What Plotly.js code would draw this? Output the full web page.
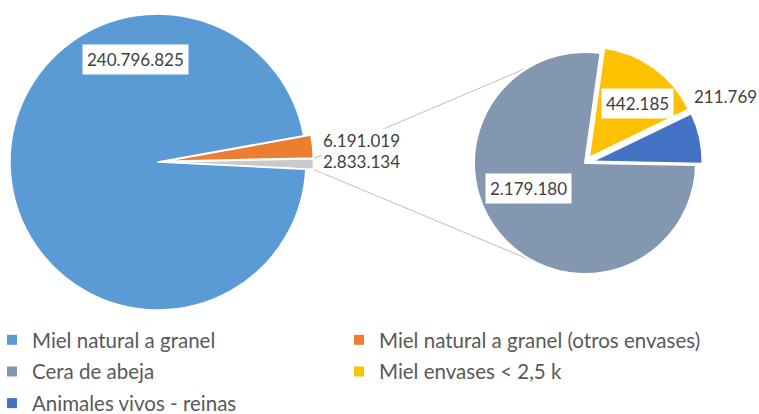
<!DOCTYPE html>
<html><head><meta charset="utf-8">
<script src="https://cdn.plot.ly/plotly-3.0.1.min.js"></script>
<style>html,body{margin:0;padding:0;background:#fff}</style>
</head><body>
<div id="chart" style="width:759px;height:414px"></div>
<script>
// ---- Data ----
// Main pie, listed clockwise starting with the orange slice
const mainLabels = ['Miel natural a granel (otros envases)', 'Otros', 'Miel natural a granel'];
const mainValues = [6191019, 2833134, 240796825];
// Secondary pie: breakdown of "Otros", listed clockwise
const subLabels = ['Miel envases < 2,5 k', 'Animales vivos - reinas', 'Cera de abeja'];
const subValues = [442185, 211769, 2179180];
// Legend columns
const legendCol1 = ['Miel natural a granel', 'Cera de abeja', 'Animales vivos - reinas'];
const legendCol2 = ['Miel natural a granel (otros envases)', 'Miel envases < 2,5 k'];

// ---- Styles ----
const colorOf = {
  'Miel natural a granel': '#5B9BD5',
  'Miel natural a granel (otros envases)': '#ED7D31',
  'Otros': '#C9C9C9',
  'Cera de abeja': '#8497B0',
  'Miel envases < 2,5 k': '#FFC000',
  'Animales vivos - reinas': '#4472C4'
};
const W = 759, H = 414;
const FONT = 'Lato, "Open Sans", sans-serif';
const mainGeo = {cx: 158, cy: 162, r: 148, pull: 0.05, rotation: 79.8};
const subGeo  = {cx: 585, cy: 163, r: 111, pull: 0.06, rotation: 8};
const connectorAngles = [-120, 118]; // where the connectors meet the secondary pie

function domainOf(g) {
  const h = g.r * (1 + g.pull);
  return {x: [(g.cx - h) / W, (g.cx + h) / W], y: [1 - (g.cy + h) / H, 1 - (g.cy - h) / H]};
}
const px = x => x / W, py = y => 1 - y / H;
const fmt = v => String(v).replace(/\B(?=(\d{3})+(?!\d))/g, '.');

const mainPie = {
  type: 'pie', labels: mainLabels, values: mainValues, sort: false, direction: 'clockwise',
  rotation: mainGeo.rotation, domain: domainOf(mainGeo),
  pull: mainLabels.map(l => l === 'Miel natural a granel' ? 0 : mainGeo.pull),
  marker: {colors: mainLabels.map(l => colorOf[l]), line: {color: '#ffffff', width: 1.5}},
  textinfo: 'none', showlegend: false, hoverinfo: 'label+value+percent'
};
const subPie = {
  type: 'pie', labels: subLabels, values: subValues, sort: false, direction: 'clockwise',
  rotation: subGeo.rotation, domain: domainOf(subGeo),
  pull: subLabels.map(l => l === 'Cera de abeja' ? 0 : subGeo.pull),
  marker: {colors: subLabels.map(l => colorOf[l]), line: {color: '#ffffff', width: 2}},
  textinfo: 'none', showlegend: false, hoverinfo: 'label+value+percent'
};

// Legend entries (no data drawn, only legend symbols)
const legendTraces = [];
legendCol1.forEach(l => legendTraces.push({type: 'scatter', mode: 'markers', x: [null], y: [null], name: l,
  legend: 'legend', legendgroup: l, marker: {symbol: 'square', size: 10, color: colorOf[l]}, hoverinfo: 'skip'}));
legendCol2.forEach(l => legendTraces.push({type: 'scatter', mode: 'markers', x: [null], y: [null], name: l,
  legend: 'legend2', legendgroup: l, marker: {symbol: 'square', size: 10, color: colorOf[l]}, hoverinfo: 'skip'}));

// Connector lines from the "Otros" slice to the secondary pie
const totMain = mainValues.reduce((a, b) => a + b, 0);
const iO = mainLabels.indexOf('Otros');
const before = mainValues.slice(0, iO).reduce((a, b) => a + b, 0);
const a0 = mainGeo.rotation + 360 * before / totMain;
const a1 = a0 + 360 * mainValues[iO] / totMain;
const am = (a0 + a1) / 2 * Math.PI / 180;
const pcx = mainGeo.cx + mainGeo.pull * mainGeo.r * Math.sin(am);
const pcy = mainGeo.cy - mainGeo.pull * mainGeo.r * Math.cos(am);
const corner = a => [pcx + mainGeo.r * Math.sin(a * Math.PI / 180), pcy - mainGeo.r * Math.cos(a * Math.PI / 180)];
const cUp = corner(a0), cDn = corner(a1);
const endPt = deg => [subGeo.cx + subGeo.r * Math.cos(deg * Math.PI / 180), subGeo.cy + subGeo.r * Math.sin(deg * Math.PI / 180)];
const eUp = endPt(connectorAngles[0]), eDn = endPt(connectorAngles[1]);
const shapes = [[cUp, eUp], [cDn, eDn]].map(([p, q]) => ({
  type: 'line', xref: 'paper', yref: 'paper', layer: 'below',
  x0: px(p[0]), y0: py(p[1]), x1: px(q[0]), y1: py(q[1]),
  line: {color: '#BFBFBF', width: 1}
}));

// Data labels
const labFont = {family: FONT, size: 17, color: '#404040'};
const v = (arr, labs, l) => arr[labs.indexOf(l)];
const annotations = [
  {text: fmt(v(mainValues, mainLabels, 'Miel natural a granel')), x: px(135.5), y: py(60), xanchor: 'center', bgcolor: '#ffffff', borderpad: 4},
  {text: fmt(v(mainValues, mainLabels, 'Miel natural a granel (otros envases)')), x: px(321), y: py(140.5), xanchor: 'left', bgcolor: '#ffffff', borderpad: 1},
  {text: fmt(v(mainValues, mainLabels, 'Otros')), x: px(321), y: py(161.5), xanchor: 'left', bgcolor: '#ffffff', borderpad: 1},
  {text: fmt(v(subValues, subLabels, 'Miel envases < 2,5 k')), x: px(637.5), y: py(103), xanchor: 'center', bgcolor: '#ffffff', borderpad: 4},
  {text: fmt(v(subValues, subLabels, 'Animales vivos - reinas')), x: px(692), y: py(96), xanchor: 'left', borderpad: 1},
  {text: fmt(v(subValues, subLabels, 'Cera de abeja')), x: px(528), y: py(188), xanchor: 'center', bgcolor: '#ffffff', borderpad: 4}
].map(a => Object.assign({xref: 'paper', yref: 'paper', yanchor: 'middle', showarrow: false, font: labFont}, a));

const legFont = {family: FONT, size: 20.5, color: '#595959'};
const layout = {
  width: W, height: H,
  margin: {l: 0, r: 0, t: 0, b: 0, pad: 0, autoexpand: false},
  paper_bgcolor: '#ffffff', plot_bgcolor: '#ffffff',
  separators: ',.',
  xaxis: {visible: false, range: [0, 1], fixedrange: true},
  yaxis: {visible: false, range: [0, 1], fixedrange: true},
  legend: {orientation: 'v', x: px(-8), xanchor: 'left', y: py(320), yanchor: 'top',
    font: legFont, bgcolor: 'rgba(0,0,0,0)', tracegroupgap: 2, itemclick: false, itemdoubleclick: false},
  legend2: {orientation: 'v', x: px(339), xanchor: 'left', y: py(320), yanchor: 'top',
    font: legFont, bgcolor: 'rgba(0,0,0,0)', tracegroupgap: 2, itemclick: false, itemdoubleclick: false},
  shapes: shapes,
  annotations: annotations
};

Plotly.newPlot('chart', [mainPie, subPie].concat(legendTraces), layout, {displayModeBar: false, staticPlot: false});
</script>
</body></html>
